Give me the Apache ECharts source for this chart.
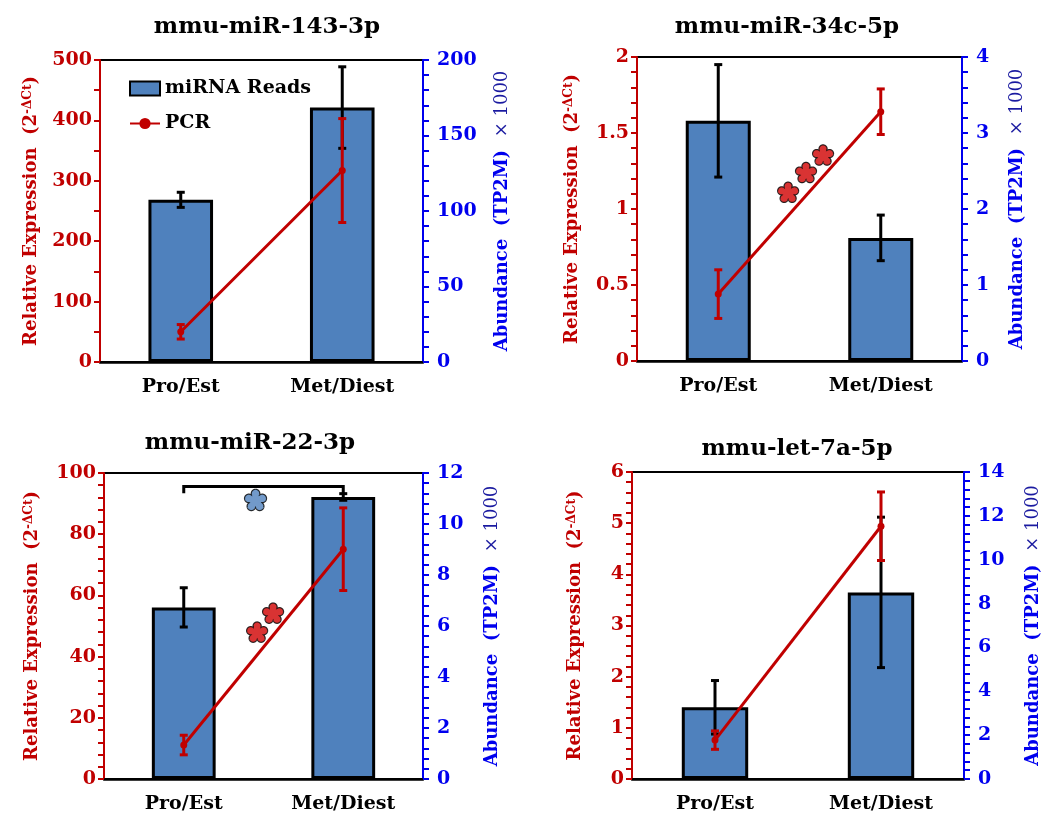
<!DOCTYPE html>
<html>
<head>
<meta charset="utf-8">
<script src="https://cdn.jsdelivr.net/npm/echarts@6/dist/echarts.min.js"></script>
<style>html,body{margin:0;padding:0;background:#fff}#c{width:1064px;height:821px}</style>
</head>
<body>
<div id="c"></div>
<script>
// ---------- data ----------
const categories = ['Pro/Est', 'Met/Diest'];
const titles = ['mmu-miR-143-3p', 'mmu-miR-34c-5p', 'mmu-miR-22-3p', 'mmu-let-7a-5p'];

const p1Reads = [107.4, 168.5];  const p1ReadsErr = [5, 27];
const p1Pcr = [50, 317];         const p1PcrErr = [12, 86];
const p2Reads = [3.16, 1.62];    const p2ReadsErr = [0.74, 0.30];
const p2Pcr = [0.44, 1.64];      const p2PcrErr = [0.16, 0.15];
const p3Reads = [6.73, 11.06];   const p3ReadsErr = [0.77, 0.13];
const p3Pcr = [11.1, 75.1];      const p3PcrErr = [3.2, 13.5];
const p4Reads = [3.27, 8.51];    const p4ReadsErr = [1.22, 3.43];
const p4Pcr = [0.76, 4.94];      const p4PcrErr = [0.18, 0.67];

const leftMax = [500, 2, 100, 6];
const leftInterval = [100, 0.5, 20, 1];
const leftMinor = [2, 5, 5, 5];
const rightMax = [200, 4, 12, 14];
const rightInterval = [50, 1, 2, 2];
const rightMinor = [5, 5, 5, 5];

// significance marks: [position between categories (0 = Pro/Est, 1 = Met/Diest), left-axis value]
const p2Stars = [[0.43, 1.11], [0.54, 1.24], [0.645, 1.355]];
const p3Stars = [[0.46, 48.0], [0.56, 54.2]];
const p3BlueStar = [[0.45, 91.2]];
// bracket in panel 3: [top value, left drop end, right drop end]
const p3Bracket = [95.6, 93.4, 93.4];

// ---------- layout / style ----------
const grids = [
  {left: 100, top: 60, width: 323, height: 302},
  {left: 637, top: 57, width: 325, height: 304},
  {left: 104, top: 473, width: 319, height: 306},
  {left: 632, top: 472, width: 332, height: 307}
];
const titlePos = [[267, 27], [787, 27], [250, 443], [797, 449]];
const leftNameGap = [60, 56, 63, 48];
const rightNameGap = [70, 46, 60, 60];

const FONT = 'DejaVu Serif';
const RED = '#c00000';
const BLUE = '#0000ee';
const BAR = '#4f81bd';

const panels = [
  {reads: p1Reads, readsErr: p1ReadsErr, pcr: p1Pcr, pcrErr: p1PcrErr},
  {reads: p2Reads, readsErr: p2ReadsErr, pcr: p2Pcr, pcrErr: p2PcrErr},
  {reads: p3Reads, readsErr: p3ReadsErr, pcr: p3Pcr, pcrErr: p3PcrErr},
  {reads: p4Reads, readsErr: p4ReadsErr, pcr: p4Pcr, pcrErr: p4PcrErr}
];

// five-petal flower outline (symbol shape)
function flowerPath() {
  const N = 400, dp = 0.58, rp = 0.35, rc = 0.24;
  let d = '';
  for (let k = 0; k <= N; k++) {
    const t = k / N * 2 * Math.PI + 0.2;
    let r = rc;
    for (let i = 0; i < 5; i++) {
      const a = i * 2 * Math.PI / 5;
      const dl = t - a;
      const ps = dp * Math.sin(dl);
      if (Math.abs(ps) <= rp) {
        const s = dp * Math.cos(dl) + Math.sqrt(rp * rp - ps * ps);
        if (s > r) r = s;
      }
    }
    const x = 50 + 50 * r * Math.sin(t);
    const y = 50 - 50 * r * Math.cos(t);
    d += (k === 0 ? 'M' : 'L') + x.toFixed(2) + ' ' + y.toFixed(2) + ' ';
  }
  return 'path://' + d + 'Z';
}
const FLOWER = flowerPath();

function errRender(color, cap) {
  return function (params, api) {
    const x = api.value(0);
    const lo = api.coord([x, api.value(1)]);
    const hi = api.coord([x, api.value(2)]);
    const st = {stroke: color, lineWidth: 3};
    return {type: 'group', children: [
      {type: 'line', shape: {x1: lo[0], y1: lo[1], x2: hi[0], y2: hi[1]}, style: st},
      {type: 'line', shape: {x1: lo[0] - cap, y1: lo[1], x2: lo[0] + cap, y2: lo[1]}, style: st},
      {type: 'line', shape: {x1: hi[0] - cap, y1: hi[1], x2: hi[0] + cap, y2: hi[1]}, style: st}
    ]};
  };
}

const xAxis = [], yAxis = [], series = [], graphic = [];
panels.forEach((p, i) => {
  xAxis.push({
    type: 'category', gridIndex: i, data: categories, boundaryGap: true,
    axisLine: {onZero: false, lineStyle: {color: '#000', width: 2.5}},
    axisTick: {alignWithLabel: true, length: 6, lineStyle: {color: '#000', width: 2}},
    axisLabel: {color: '#000', fontFamily: FONT, fontWeight: 'bold', fontSize: 19, margin: 16},
    splitLine: {show: false}
  });
});
panels.forEach((p, i) => {
  xAxis.push({type: 'value', gridIndex: i, min: -0.5, max: 1.5, show: false,
    axisLine: {onZero: false}});
});
panels.forEach((p, i) => {
  yAxis.push({
    type: 'value', gridIndex: i, position: 'left', min: 0, max: leftMax[i], interval: leftInterval[i],
    axisLine: {show: true, onZero: false, lineStyle: {color: RED, width: 2}},
    axisTick: {show: true, length: 6, lineStyle: {color: RED, width: 2}},
    minorTick: {show: true, splitNumber: leftMinor[i], length: 6, lineStyle: {color: RED, width: 2}},
    splitLine: {show: false}, minorSplitLine: {show: false},
    axisLabel: {color: RED, fontFamily: FONT, fontWeight: 'bold', fontSize: 19, margin: 8},
    name: 'Relative Expression  (2{s|-ΔCt})', nameLocation: 'middle', nameRotate: 90, nameGap: leftNameGap[i],
    nameTextStyle: {color: RED, fontFamily: FONT, fontWeight: 'bold', fontSize: 18,
      rich: {s: {color: RED, fontFamily: FONT, fontSize: 12, verticalAlign: 'top', lineHeight: 14}}}
  });
  yAxis.push({
    type: 'value', gridIndex: i, position: 'right', min: 0, max: rightMax[i], interval: rightInterval[i],
    axisLine: {show: true, onZero: false, lineStyle: {color: BLUE, width: 2}},
    axisTick: {show: true, length: 6, lineStyle: {color: BLUE, width: 2}},
    minorTick: {show: true, splitNumber: rightMinor[i], length: 6, lineStyle: {color: BLUE, width: 2}},
    splitLine: {show: false}, minorSplitLine: {show: false},
    axisLabel: {color: BLUE, fontFamily: FONT, fontWeight: 'bold', fontSize: 19, margin: 14},
    name: 'Abundance  (TP2M)  {n|× 1000}', nameLocation: 'middle', nameRotate: 90, nameGap: rightNameGap[i],
    nameTextStyle: {color: BLUE, fontFamily: FONT, fontWeight: 'bold', fontSize: 18,
      rich: {n: {color: '#1a1aa0', fontFamily: FONT, fontWeight: 'normal', fontSize: 18}}}
  });

  series.push({
    type: 'bar', name: 'miRNA Reads', xAxisIndex: i, yAxisIndex: 2 * i + 1, data: p.reads,
    barWidth: '40%', itemStyle: {color: BAR, borderColor: '#000', borderWidth: 3}, z: 2
  });
  series.push({
    type: 'custom', xAxisIndex: i, yAxisIndex: 2 * i + 1,
    data: p.reads.map((v, k) => [k, v - p.readsErr[k], v + p.readsErr[k]]),
    encode: {x: 0, y: [1, 2]}, renderItem: errRender('#000', 4), z: 3, silent: true
  });
  series.push({
    type: 'line', name: 'PCR', xAxisIndex: i, yAxisIndex: 2 * i, data: p.pcr,
    color: RED, lineStyle: {color: RED, width: 3}, symbol: 'circle', symbolSize: 7,
    itemStyle: {color: RED}, z: 4
  });
  series.push({
    type: 'custom', xAxisIndex: i, yAxisIndex: 2 * i,
    data: p.pcr.map((v, k) => [k, v - p.pcrErr[k], v + p.pcrErr[k]]),
    encode: {x: 0, y: [1, 2]}, renderItem: errRender(RED, 4), z: 5, silent: true
  });

  graphic.push({
    type: 'text', x: titlePos[i][0], y: titlePos[i][1],
    style: {text: titles[i], fill: '#000', font: 'bold 23px "' + FONT + '"', textAlign: 'center', textVerticalAlign: 'middle'}
  });
});

// significance flowers
series.push({
  type: 'scatter', xAxisIndex: 5, yAxisIndex: 2, data: p2Stars, symbol: FLOWER, symbolSize: 21,
  symbolKeepAspect: true, itemStyle: {color: '#d00000', borderColor: '#000', borderWidth: 1.2}, z: 6, silent: true
});
series.push({
  type: 'scatter', xAxisIndex: 6, yAxisIndex: 4, data: p3Stars, symbol: FLOWER, symbolSize: 21,
  symbolKeepAspect: true, itemStyle: {color: '#d00000', borderColor: '#000', borderWidth: 1.2}, z: 6, silent: true
});
series.push({
  type: 'scatter', xAxisIndex: 6, yAxisIndex: 4, data: p3BlueStar, symbol: FLOWER, symbolSize: 22,
  symbolKeepAspect: true, itemStyle: {color: BAR, borderColor: '#000', borderWidth: 1.2}, z: 6, silent: true
});
// bracket
series.push({
  type: 'custom', xAxisIndex: 2, yAxisIndex: 4, data: [[0, p3Bracket[0], p3Bracket[1], p3Bracket[2]]],
  encode: {x: 0, y: 1}, silent: true, z: 6,
  renderItem: function (params, api) {
    const top = api.value(1);
    const a = api.coord([0, api.value(2)]);
    const b = api.coord([0, top]);
    const c = api.coord([1, top]);
    const d = api.coord([1, api.value(3)]);
    return {type: 'polyline', shape: {points: [a, b, c, d]}, style: {stroke: '#000', lineWidth: 3, fill: null}};
  }
});

const option = {
  backgroundColor: '#fff',
  animation: false,
  grid: grids.map(g => Object.assign({show: true, borderColor: '#000', borderWidth: 2, backgroundColor: 'transparent'}, g)),
  legend: {
    left: 124, top: 74, orient: 'vertical', itemGap: 16, itemWidth: 30, itemHeight: 14,
    selectedMode: false,
    textStyle: {color: '#000', fontFamily: FONT, fontWeight: 'bold', fontSize: 19},
    data: [{name: 'miRNA Reads', icon: 'rect'}, {name: 'PCR'}]
  },
  xAxis: xAxis,
  yAxis: yAxis,
  series: series,
  graphic: graphic
};

const chart = echarts.init(document.getElementById('c'), null, {renderer: 'canvas'});
chart.setOption(option);
</script>
</body>
</html>
